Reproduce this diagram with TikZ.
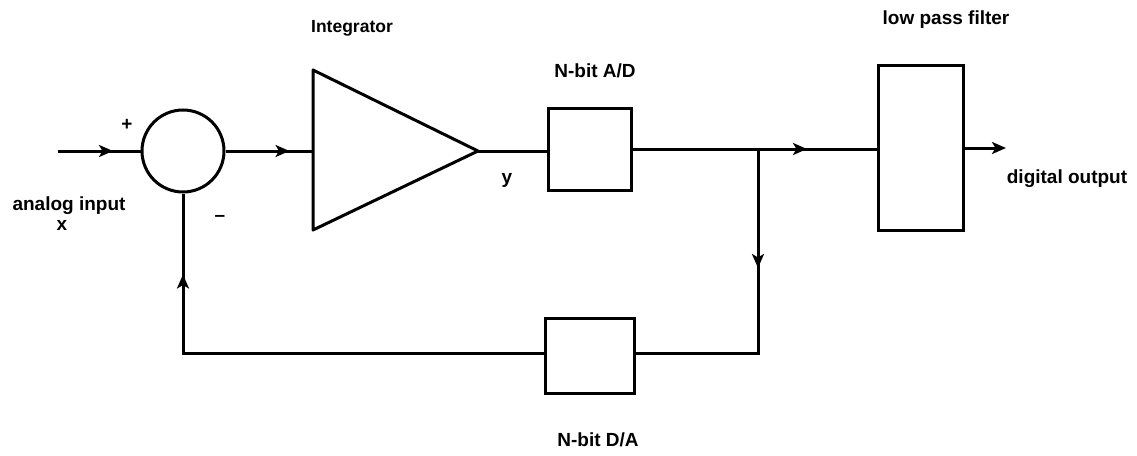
\documentclass[tikz,border=0pt]{standalone}
\usepackage{fontspec}
\setmainfont{Liberation Sans}
\usetikzlibrary{arrows.meta,decorations.markings}
\begin{document}
\begin{tikzpicture}[x=1pt,y=-1pt,
  line width=3pt,
  lbl/.style={font=\bfseries\fontsize{19}{21}\selectfont, inner sep=0pt},
  midarrow/.style={decoration={markings, mark=at position #1 with {\arrow{Stealth[length=14pt,width=12pt,inset=3.5pt]}}}, postaction={decorate}},
]
\useasboundingbox (0,0) rectangle (1137,455);
% nodes
\node[draw, circle, minimum size=82pt, inner sep=0pt] (sum) at (183,151) {};
\coordinate (in) at (58,151);
\coordinate (intw) at (313,151);
\coordinate (intt) at (313,70);
\coordinate (intb) at (313,230);
\coordinate (inta) at (478,151);
\draw[line join=round] (intt) -- (inta) -- (intb) -- cycle;
\node[draw, minimum width=83pt, minimum height=82pt, inner sep=0pt] (ad) at (589.5,149) {};
\node[draw, minimum width=85pt, minimum height=165pt, inner sep=0pt] (lpf) at (920.5,147.5) {};
\node[draw, minimum width=89pt, minimum height=75pt, inner sep=0pt] (da) at (589.5,355.5) {};
\coordinate (br) at (758,149);
\coordinate (brd) at (758,353);
\coordinate (fb) at (183,353);
\coordinate (out) at (1006,148);
% connectors
\draw[midarrow=55pt] (in) -- (sum.west);
\draw[midarrow=64pt] (sum.east) -- (intw);
\draw (inta) -- (ad.west |- inta);
\draw (ad.east |- br) -- (br);
\draw[midarrow=49pt] (br) -- (lpf.west |- br);
\draw[midarrow=119pt] (br) -- (brd) -- (da.east |- brd);
\draw[midarrow=439pt] (da.west |- fb) -- (fb) -- (sum.south);
\draw[-{Stealth[length=14pt,width=12pt,inset=3.5pt]}] (lpf.east |- out) -- (out);
% labels
\node[lbl] (plus) at (127,125) {+};
\node[lbl] (minus) at (220,218) {\textendash};
\node[lbl] (ain) at (69,206) {analog input};
\node[lbl] (ax) at (62,225) {x};
\node[lbl, font=\bfseries\fontsize{17.5}{20}\selectfont] (intl) at (352,28) {Integrator};
\node[lbl] (yl) at (507,180) {y};
\node[lbl] (adl) at (595,71) {N-bit A/D};
\node[lbl] (lpfl) at (946,20) {low pass filter};
\node[lbl] (outl) at (1067,179) {digital output};
\node[lbl] (dal) at (598,440) {N-bit D/A};
\end{tikzpicture}
\end{document}
